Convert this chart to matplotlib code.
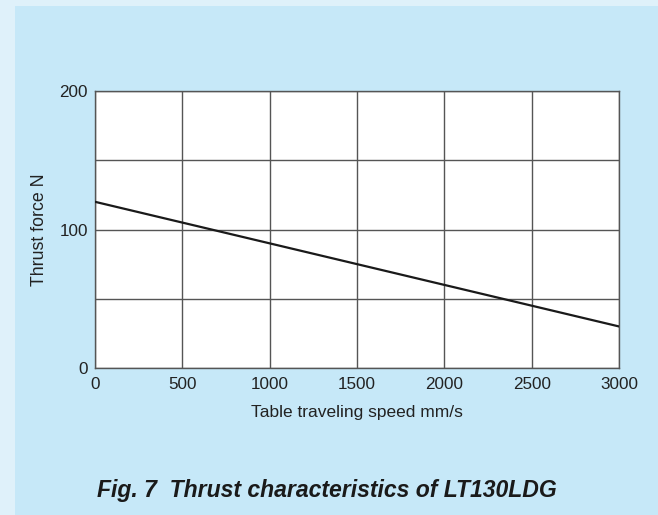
import matplotlib
matplotlib.use("Agg")
import matplotlib.pyplot as plt
from matplotlib.patches import Rectangle

plt.rcParams['font.family'] = ['Liberation Sans', 'DejaVu Sans']

# data
speed = [0, 3000]
thrust = [120, 30]
xticks = [0, 500, 1000, 1500, 2000, 2500, 3000]
yticks = [0, 100, 200]
ygrid = [0, 50, 100, 150, 200]

W, H = 658, 515
fig = plt.figure(figsize=(W / 100, H / 100), dpi=100)
fig.patch.set_facecolor('#dff1fa')
# inner blue panel
fig.patches.append(Rectangle((15 / W, 0), 1 - 15 / W, 1 - 6 / H,
                             transform=fig.transFigure, facecolor='#c6e8f8',
                             edgecolor='none', zorder=-5))

ax = fig.add_axes([95 / W, 1 - 368 / H, (619 - 95) / W, (368 - 91) / H])
ax.set_zorder(2)
ax.set_facecolor('white')
ax.set_xlim(0, 3000)
ax.set_ylim(0, 200)

for x in xticks:
    ax.axvline(x, color='#555555', lw=1.0, zorder=1)
for y in ygrid:
    ax.axhline(y, color='#555555', lw=1.0, zorder=1)
for s in ax.spines.values():
    s.set_color('#555555')
    s.set_linewidth(1.0)

ax.plot(speed, thrust, color='#1a1a1a', lw=1.6, zorder=3)

ax.set_xticks(xticks)
ax.set_yticks(yticks)
ax.tick_params(length=0, labelsize=12.3, colors='#222222', pad=5)
ax.tick_params(axis='x', pad=6.5)

ax.set_xlabel('Table traveling speed mm/s', fontsize=12.5, color='#222222', va='center')
ax.set_ylabel('Thrust force N', fontsize=12.8, color='#222222', va='center')
ax.xaxis.set_label_coords(0.5, -0.159)
ax.yaxis.set_label_coords(-0.105, 0.5)

fig.text(97 / W, 1 - 490 / H, 'Fig. 7  Thrust characteristics of LT130LDG',
         fontsize=16.6, fontweight='bold', fontstyle='italic', color='#1a1a1a',
         ha='left', va='center')

fig.savefig('out.png', dpi=100, facecolor=fig.get_facecolor())
